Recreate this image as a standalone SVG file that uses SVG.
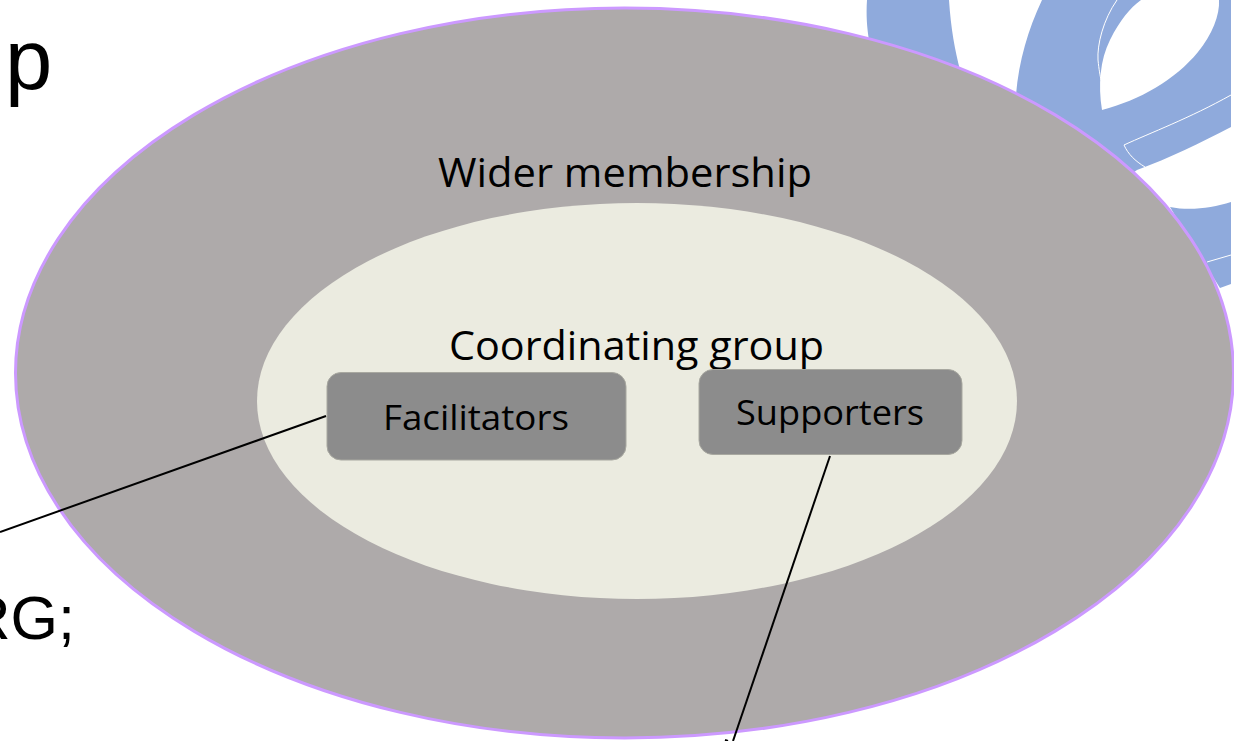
<svg xmlns="http://www.w3.org/2000/svg" width="1234" height="741" viewBox="0 0 1234 741">
<style>
.bg{fill:#8faadc}
.hole{fill:#fff}
.thin{fill:none;stroke:#fff;stroke-width:1}
.t{font-family:"Open Sans","Noto Sans",sans-serif;fill:#000;text-anchor:middle}
.h{font-family:"Liberation Sans",Arial,sans-serif;fill:#000}
.box{fill:#8c8c8c;stroke:#a8a8a0;stroke-width:1}
.link{stroke:#000;stroke-width:2;fill:none}
</style>
<rect width="1234" height="741" fill="#fff"/>
<g id="backdrop">
<path class="bg" d="M867 0C866 15 867 28 869 40L960 70C955 50 951 30 949 0Z"/>
<path class="bg" d="M1042 0C1028 30 1019 60 1016 95L1130 175L1137 170C1170 158 1200 143 1231 127V0Z"/>
<path class="hole" d="M1102 110C1098 85 1100 60 1110 40C1120 20 1130 8 1141 0H1219C1220 15 1212 35 1198 52C1175 80 1140 100 1102 110Z"/>
<path class="bg" d="M1231 202C1212 208 1190 211 1170 207L1190 240L1220 288L1231 284Z"/>
<path class="thin" d="M1231 95C1190 118 1150 133 1124 145C1128 154 1135 161 1145 167"/>
<path class="thin" d="M1117 0C1103 20 1097 45 1098 60C1099 70 1100 75 1101 80"/>
<path class="thin" d="M1207 262L1231 255"/>
</g>
<text class="h" x="5" y="89" font-size="85">p</text>
<text class="h" x="75" y="639" font-size="61" text-anchor="end">RG;</text>
<g id="wider-membership">
<ellipse cx="624.500" cy="373" rx="609" ry="365" fill="#aeaaaa" stroke="#cc99ff" stroke-width="3"/>
<text class="t" x="625" y="187" font-size="41" textLength="374" lengthAdjust="spacingAndGlyphs">Wider membership</text>
</g>
<g id="coordinating-group">
<ellipse cx="637" cy="401" rx="380" ry="198" fill="#ebebe0"/>
<text class="t" x="636.500" y="360" font-size="41" textLength="375" lengthAdjust="spacingAndGlyphs">Coordinating group</text>
</g>
<g id="facilitators">
<rect class="box" x="327" y="372.500" width="299" height="87.500" rx="14"/>
<text class="t" x="476" y="430" font-size="35" textLength="186" lengthAdjust="spacingAndGlyphs">Facilitators</text>
</g>
<g id="supporters">
<rect class="box" x="699" y="369.500" width="263" height="85" rx="14"/>
<text class="t" x="830" y="425" font-size="35" textLength="188" lengthAdjust="spacingAndGlyphs">Supporters</text>
</g>
<g id="connectors">
<line class="link" x1="0" y1="532" x2="326" y2="416"/>
<line class="link" x1="830" y1="456" x2="733" y2="741"/>
<line class="link" stroke-width="1" x1="725" y1="740" x2="728" y2="741"/>
</g>
</svg>
